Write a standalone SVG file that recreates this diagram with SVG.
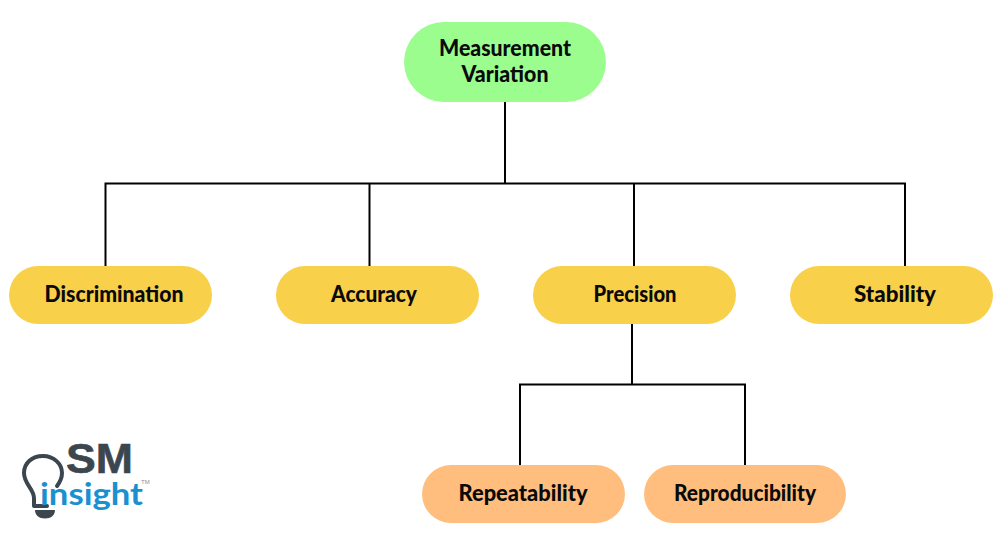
<svg xmlns="http://www.w3.org/2000/svg" width="1006" height="534" viewBox="0 0 1006 534">
<style>
.t{font-family:"Lato","Liberation Sans",sans-serif;font-weight:900;font-size:22px;fill:#0a0a0a;text-anchor:middle}
.c{fill:none;stroke:#000;stroke-width:2}
.y{fill:#f9d04a}.o{fill:#ffbe7d}.g{fill:#9cfd8f}
.bulb{fill:none;stroke:#3c464e;stroke-width:4;stroke-linejoin:round;stroke-linecap:round}
</style>
<rect width="1006" height="534" fill="#fff"/>
<g id="connectors">
<path class="c" d="M505 102V183M105.500 267V183.500H905V267M369.500 183.500V267M634 183.500V267M632 323V384.500M520 466V384.500H745V466"/>
</g>
<g id="measurement"><rect class="g" x="404" y="22" width="202" height="80" rx="40"/><text class="t" x="505" y="56" textLength="132" lengthAdjust="spacingAndGlyphs">Measurement</text><text class="t" x="505" y="82" textLength="87" lengthAdjust="spacingAndGlyphs">Variation</text></g>
<g id="discrimination"><rect class="y" x="9" y="266" width="203" height="58" rx="29"/><text class="t" x="114" y="302" textLength="139" lengthAdjust="spacingAndGlyphs">Discrimination</text></g>
<g id="accuracy"><rect class="y" x="276" y="266" width="203" height="58" rx="29"/><text class="t" x="374" y="302" textLength="86" lengthAdjust="spacingAndGlyphs">Accuracy</text></g>
<g id="precision"><rect class="y" x="533" y="266" width="203" height="58" rx="29"/><text class="t" x="635" y="302" textLength="83" lengthAdjust="spacingAndGlyphs">Precision</text></g>
<g id="stability"><rect class="y" x="790" y="266" width="203" height="58" rx="29"/><text class="t" x="895" y="302" textLength="82" lengthAdjust="spacingAndGlyphs">Stability</text></g>
<g id="repeatability"><rect class="o" x="422" y="465" width="203" height="58" rx="29"/><text class="t" x="523" y="501" textLength="129" lengthAdjust="spacingAndGlyphs">Repeatability</text></g>
<g id="reproducibility"><rect class="o" x="644" y="465" width="202" height="58" rx="29"/><text class="t" x="745" y="501" textLength="142" lengthAdjust="spacingAndGlyphs">Reproducibility</text></g>
<g id="logo">
<path class="bulb" d="M47 506H34V498C34 489 24 484 24 473C24 463 32 456 43 456C54 456 62 464 62 473C62 478 60 482 57 486"/>
<path d="M35 510H55C55 515 51 518.500 45 518.500C39 518.500 35 515 35 510Z" fill="#3c464e"/>
<text x="66" y="473" font-family="Liberation Sans,sans-serif" font-weight="700" font-size="42" fill="#3c464e" stroke="#3c464e" stroke-width="0.6" textLength="67" lengthAdjust="spacingAndGlyphs">SM</text>
<text x="40" y="505" font-family="Lato,Liberation Sans,sans-serif" font-weight="700" font-size="30" fill="#1a90cf" textLength="103" lengthAdjust="spacingAndGlyphs">insight</text>
<text x="141" y="484" font-family="Liberation Sans,sans-serif" font-size="6" fill="#8a9096">TM</text>
</g>
</svg>
